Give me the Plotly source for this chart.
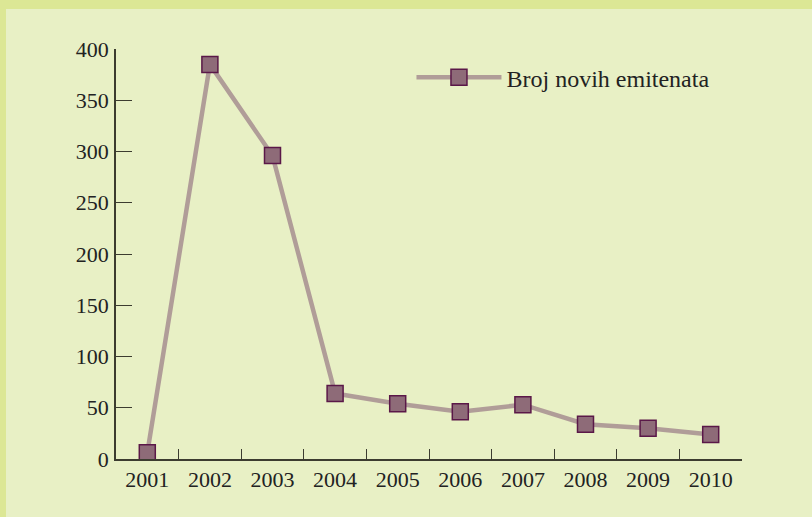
import plotly.graph_objects as go

years = ["2001", "2002", "2003", "2004", "2005", "2006", "2007", "2008", "2009", "2010"]
values = [6, 385, 296, 64, 54, 46, 53, 34, 30, 24]
series_name = "Broj novih emitenata"
y_ticks = [0, 50, 100, 150, 200, 250, 300, 350, 400]

inner_bg = "#e8f0c5"
band = "#dce795"
axis_col = "#3c3c30"
tick_font = dict(family="Liberation Serif, DejaVu Serif, serif", size=22, color="#222222")
legend_font = dict(family="Liberation Serif, DejaVu Serif, serif", size=24, color="#222222")

fig = go.Figure()
fig.add_trace(go.Scatter(
    x=years, y=values, name=series_name, mode="lines+markers",
    line=dict(color="#b09d98", width=4.5),
    marker=dict(symbol="square", size=16, color="#8e6b78",
                line=dict(color="#5a1848", width=1.5)),
))

fig.update_layout(
    width=812, height=517,
    margin=dict(l=116, r=70, t=49, b=58),
    paper_bgcolor=inner_bg, plot_bgcolor=inner_bg,
    font=tick_font,
    showlegend=True,
    legend=dict(x=0.472, y=0.985, xanchor="left", yanchor="top",
                bgcolor="rgba(0,0,0,0)", font=legend_font, itemwidth=85),
    xaxis=dict(type="category", range=[-0.5, 9.5], showgrid=False, showline=True,
               linecolor=axis_col, linewidth=2, ticks="inside", ticklen=10,
               tickwidth=1.2, tickcolor=axis_col, tickson="boundaries",
               zeroline=False, fixedrange=True),
    yaxis=dict(range=[0, 400], tickvals=y_ticks, showgrid=False, showline=True,
               linecolor=axis_col, linewidth=1.5, ticks="inside", ticklen=16,
               tickwidth=1.2, tickcolor=axis_col, zeroline=False,
               ticklabelstandoff=1, fixedrange=True),
    shapes=[
        dict(type="rect", xref="paper", yref="paper", xsizemode="pixel", ysizemode="pixel",
             xanchor=0, yanchor=1, x0=-120, x1=720, y0=40, y1=60,
             fillcolor=band, line=dict(width=0), layer="below"),
        dict(type="rect", xref="paper", yref="paper", xsizemode="pixel", ysizemode="pixel",
             xanchor=0, yanchor=0, x0=-120, x1=-110, y0=-70, y1=470,
             fillcolor=band, line=dict(width=0), layer="below"),
    ],
)

fig.write_html("out.html", config={"displayModeBar": False},
               post_script="document.body.style.margin='0';document.body.style.padding='0';")
